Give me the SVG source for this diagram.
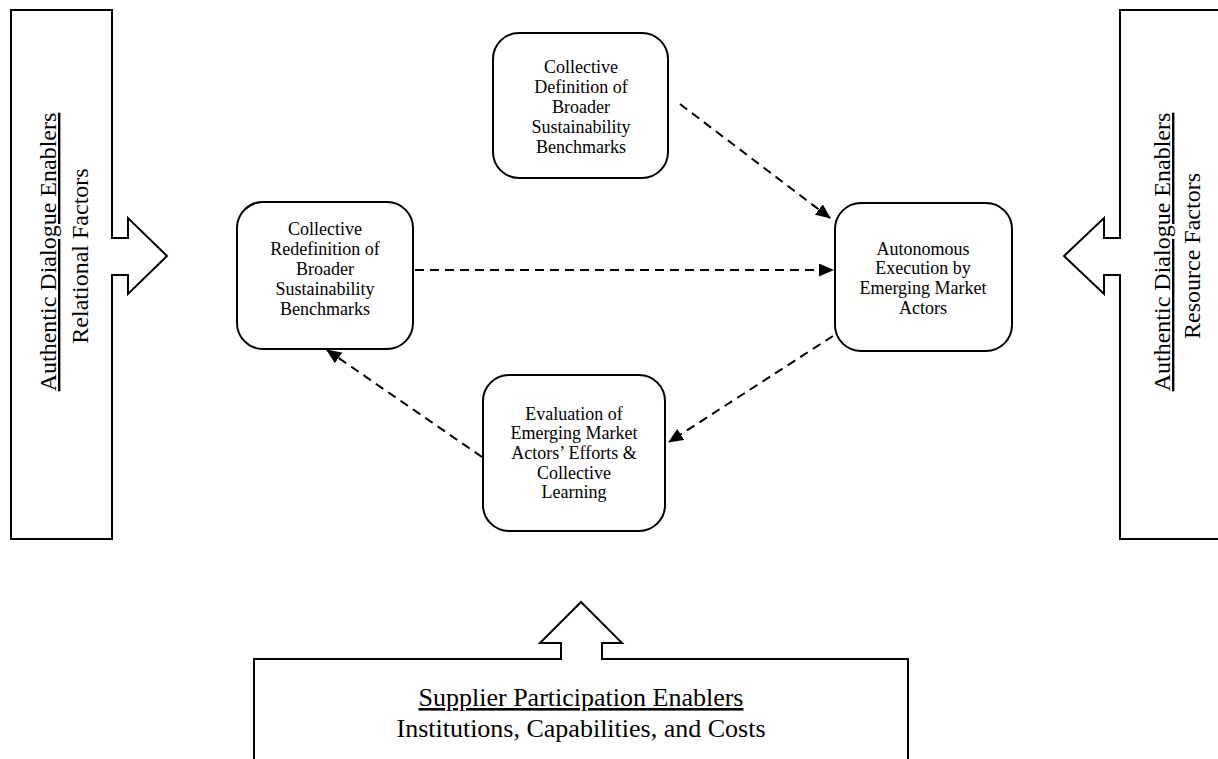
<svg xmlns="http://www.w3.org/2000/svg" width="1218" height="759" viewBox="0 0 1218 759">
<style>
.bg{fill:#fff}
.shape{fill:#fff;stroke:#000;stroke-width:2}
.node{fill:#fff;stroke:#000;stroke-width:2}
.nt{font-family:"Liberation Serif","Times New Roman",serif;font-size:18px;fill:#000;text-anchor:middle}
.big{font-family:"Liberation Serif","Times New Roman",serif;font-size:24px;fill:#000;text-anchor:middle}
.big2{font-family:"Liberation Serif","Times New Roman",serif;font-size:26px;fill:#000;text-anchor:middle}
.u{text-decoration:underline}
.conn{fill:none;stroke:#000;stroke-width:2;stroke-dasharray:9 6}
</style>
<defs>
<marker id="ah" markerUnits="userSpaceOnUse" markerWidth="15" markerHeight="13" refX="14" refY="6.5" orient="auto">
<path d="M0,0 L15,6.5 L0,13 z" fill="#000"/>
</marker>
</defs>
<rect class="bg" x="0" y="0" width="1218" height="759"/>

<g id="left-enablers">
<polygon class="shape" points="11,10 112,10 112,238 128,238 128,218 167,256 128,294 128,275 112,275 112,539 11,539"/>
<text class="big u" transform="translate(56,252) rotate(-90)">Authentic Dialogue Enablers</text>
<text class="big" transform="translate(88,256) rotate(-90)">Relational Factors</text>
</g>

<g id="right-enablers">
<polygon class="shape" points="1120,10 1230,10 1230,539 1120,539 1120,275 1104,275 1104,294 1064,256 1104,218 1104,238 1120,238"/>
<text class="big u" transform="translate(1170,252) rotate(-90)">Authentic Dialogue Enablers</text>
<text class="big" transform="translate(1200,256) rotate(-90)">Resource Factors</text>
</g>

<g id="bottom-enablers">
<polygon class="shape" points="254,775 254,659 561,659 561,643 540,643 581,602 622,643 602,643 602,659 908,659 908,775"/>
<text class="big2 u" x="581" y="706">Supplier Participation Enablers</text>
<text class="big2" x="581" y="737">Institutions, Capabilities, and Costs</text>
</g>

<g id="connectors">
<line class="conn" x1="680" y1="104" x2="830" y2="218" marker-end="url(#ah)"/>
<line class="conn" x1="415" y1="270" x2="833" y2="270" marker-end="url(#ah)"/>
<line class="conn" x1="833" y1="336" x2="669" y2="442" marker-end="url(#ah)"/>
<line class="conn" x1="482" y1="457" x2="327" y2="350" marker-end="url(#ah)"/>
</g>

<g id="node-definition">
<rect class="node" x="493" y="33" width="175" height="145" rx="26" ry="26"/>
<text class="nt" x="581" y="73">Collective</text>
<text class="nt" x="581" y="93">Definition of</text>
<text class="nt" x="581" y="113">Broader</text>
<text class="nt" x="581" y="133">Sustainability</text>
<text class="nt" x="581" y="153">Benchmarks</text>
</g>

<g id="node-redefinition">
<rect class="node" x="237" y="202" width="176" height="147" rx="26" ry="26"/>
<text class="nt" x="325" y="235">Collective</text>
<text class="nt" x="325" y="255">Redefinition of</text>
<text class="nt" x="325" y="275">Broader</text>
<text class="nt" x="325" y="295">Sustainability</text>
<text class="nt" x="325" y="315">Benchmarks</text>
</g>

<g id="node-execution">
<rect class="node" x="835" y="203" width="177" height="148" rx="26" ry="26"/>
<text class="nt" x="923" y="255">Autonomous</text>
<text class="nt" x="923" y="274">Execution by</text>
<text class="nt" x="923" y="294">Emerging Market</text>
<text class="nt" x="923" y="314">Actors</text>
</g>

<g id="node-evaluation">
<rect class="node" x="483" y="375" width="182" height="156" rx="26" ry="26"/>
<text class="nt" x="574" y="420">Evaluation of</text>
<text class="nt" x="574" y="439">Emerging Market</text>
<text class="nt" x="574" y="459">Actors’ Efforts &amp;</text>
<text class="nt" x="574" y="479">Collective</text>
<text class="nt" x="574" y="498">Learning</text>
</g>
</svg>
